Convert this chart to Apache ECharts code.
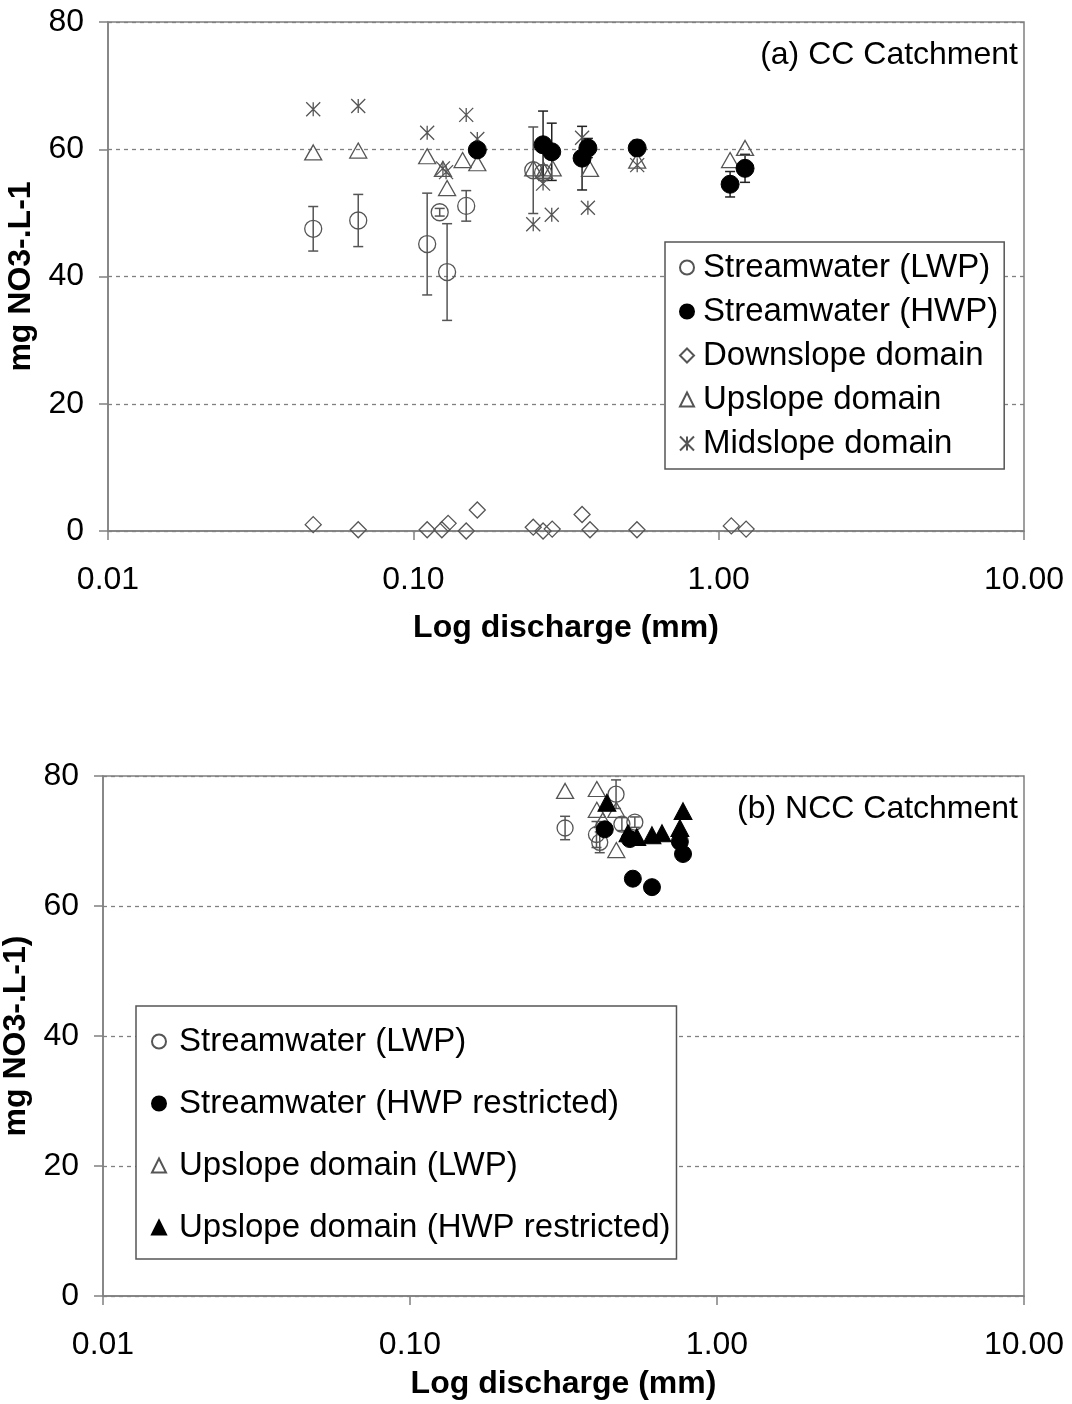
<!DOCTYPE html>
<html>
<head>
<meta charset="utf-8">
<script src="https://cdn.jsdelivr.net/npm/echarts@6/dist/echarts.min.js"></script>
<style>
html,body{margin:0;padding:0;background:#fff;}
#chart{width:1072px;height:1404px;}
</style>
</head>
<body>
<div id="chart"></div>
<script>
// ---------- (a) CC Catchment ----------
const ccLwpX   = [0.047, 0.066, 0.111, 0.122, 0.129, 0.149, 0.247, 0.266];
const ccLwpY   = [47.5, 48.8, 45.1, 50.1, 40.7, 51.1, 56.7, 56.3];
const ccLwpErr = [3.5, 4.1, 8.0, 0.6, 7.6, 2.4, 6.8, 1.2];

const ccHwpX   = [0.162, 0.266, 0.284, 0.357, 0.373, 0.541, 1.09, 1.22];
const ccHwpY   = [59.9, 60.7, 59.6, 58.6, 60.2, 60.2, 54.5, 57.0];
const ccHwpErr = [1.0, 5.3, 4.5, 5.0, 1.5, 1.2, 2.0, 2.2];

const ccDownX = [0.047, 0.066, 0.111, 0.124, 0.130, 0.149, 0.162, 0.247, 0.266, 0.285, 0.357, 0.379, 0.540, 1.10, 1.23];
const ccDownY = [1.0, 0.2, 0.2, 0.2, 1.2, 0.0, 3.3, 0.6, 0.0, 0.3, 2.6, 0.2, 0.2, 0.8, 0.3];

const ccUpX = [0.047, 0.066, 0.111, 0.125, 0.129, 0.145, 0.162, 0.247, 0.268, 0.286, 0.379, 0.541, 1.09, 1.22];
const ccUpY = [59.5, 59.8, 58.9, 56.9, 53.9, 58.3, 57.8, 57.0, 56.6, 57.0, 56.9, 58.2, 58.3, 60.2];

const ccMidX = [0.047, 0.066, 0.111, 0.125, 0.128, 0.149, 0.162, 0.247, 0.266, 0.284, 0.357, 0.373, 0.541];
const ccMidY = [66.3, 66.8, 62.6, 57.0, 56.4, 65.4, 61.6, 48.2, 54.6, 49.7, 61.8, 50.8, 57.5];

// ---------- (b) NCC Catchment ----------
const nccLwpX   = [0.32, 0.405, 0.415, 0.469, 0.49, 0.54];
const nccLwpY   = [72.0, 71.0, 69.8, 77.2, 72.6, 72.9];
const nccLwpErr = [1.8, 2.0, 1.6, 2.2, 1.0, 0.8];

const nccHwpX = [0.431, 0.52, 0.532, 0.614, 0.757, 0.775];
const nccHwpY = [71.8, 70.3, 64.2, 62.9, 69.9, 68.0];

const nccUpLwpX = [0.32, 0.406, 0.406, 0.425, 0.47, 0.47];
const nccUpLwpY = [77.7, 78.0, 74.8, 73.2, 74.8, 68.6];

const nccUpHwpX = [0.438, 0.513, 0.548, 0.614, 0.662, 0.757, 0.775];
const nccUpHwpY = [75.9, 71.2, 70.6, 70.9, 71.2, 72.0, 74.6];

const xTickDecimals = 2;
const yTicks = [0, 20, 40, 60, 80];

const legendA = ['Streamwater (LWP)', 'Streamwater (HWP)', 'Downslope domain', 'Upslope domain', 'Midslope domain'];
const legendB = ['Streamwater (LWP)', 'Streamwater (HWP restricted)', 'Upslope domain (LWP)', 'Upslope domain (HWP restricted)'];

// ---------- helpers ----------
const FONT = 'Liberation Sans, Arial, Helvetica, sans-serif';
const pairs = (xs, ys) => xs.map((x, i) => [x, ys[i]]);
const errData = (xs, ys, es) => xs.map((x, i) => [x, ys[i] - es[i], ys[i] + es[i]]);
const STAR = 'path://M0,0L10,10M10,0L0,10M5,0L5,10';

function errSeries(name, data, color, xi) {
  return {
    type: 'custom', name: name, xAxisIndex: xi, yAxisIndex: xi, z: 1,
    encode: { x: 0, y: [1, 2] },
    data: data,
    silent: true,
    renderItem: function (params, api) {
      const x = api.value(0);
      const lo = api.coord([x, api.value(1)]);
      const hi = api.coord([x, api.value(2)]);
      const c = 5;
      const st = { stroke: color, lineWidth: 1.5 };
      return {
        type: 'group',
        children: [
          { type: 'line', shape: { x1: hi[0], y1: hi[1], x2: lo[0], y2: lo[1] }, style: st },
          { type: 'line', shape: { x1: hi[0] - c, y1: hi[1], x2: hi[0] + c, y2: hi[1] }, style: st },
          { type: 'line', shape: { x1: lo[0] - c, y1: lo[1], x2: lo[0] + c, y2: lo[1] }, style: st }
        ]
      };
    }
  };
}

const openStyleT = { color: 'rgba(255,255,255,0)', borderColor: '#555', borderWidth: 1.3, opacity: 1 };
const fillStyle = { color: '#000', borderColor: '#000', borderWidth: 1, opacity: 1 };

function sc(name, data, symbol, size, style, xi, z) {
  return {
    type: 'scatter', name: name, xAxisIndex: xi, yAxisIndex: xi,
    data: data, symbol: symbol, symbolSize: size, itemStyle: style, z: z || 2,
    emphasis: { disabled: true }
  };
}

function xAxisCfg(gi, nameGap) {
  return {
    type: 'log', logBase: 10, min: 0.01, max: 10, gridIndex: gi,
    name: 'Log discharge (mm)', nameLocation: 'middle', nameGap: nameGap,
    nameTextStyle: { fontSize: 32, fontWeight: 'bold', color: '#000', fontFamily: FONT },
    axisLine: { show: true, lineStyle: { color: '#808080', width: 1.5 } },
    axisTick: { show: true, length: 9, lineStyle: { color: '#808080', width: 1.5 } },
    minorTick: { show: false },
    splitLine: { show: false },
    axisLabel: { fontSize: 32, color: '#000', fontFamily: FONT, margin: 33,
      formatter: v => Number(v).toFixed(xTickDecimals) }
  };
}
function yAxisCfg(gi, name, nameGap) {
  return {
    type: 'value', min: yTicks[0], max: yTicks[yTicks.length - 1], interval: 20, gridIndex: gi,
    name: name, nameLocation: 'middle', nameGap: nameGap,
    nameTextStyle: { fontSize: 32, fontWeight: 'bold', color: '#000', fontFamily: FONT },
    axisLine: { show: true, lineStyle: { color: '#808080', width: 1.5 } },
    axisTick: { show: true, length: 9, lineStyle: { color: '#808080', width: 1.5 } },
    splitLine: { show: true, lineStyle: { color: '#808080', type: [4, 4], width: 1.3 } },
    axisLabel: { fontSize: 32, color: '#000', fontFamily: FONT, margin: 24 }
  };
}

const option = {
  animation: false,
  backgroundColor: '#fff',
  textStyle: { fontFamily: FONT },
  title: [
    { text: '(a) CC Catchment', right: 49, top: 34,
      textStyle: { fontSize: 32, fontWeight: 'normal', color: '#000', fontFamily: FONT } },
    { text: '(b) NCC Catchment', right: 49, top: 788,
      textStyle: { fontSize: 32, fontWeight: 'normal', color: '#000', fontFamily: FONT } }
  ],
  grid: [
    { left: 108, top: 22, width: 916, height: 509, show: true, borderColor: '#808080', borderWidth: 1.5,
      backgroundColor: '#fff', containLabel: false, outerBoundsMode: 'none' },
    { left: 103, top: 776, width: 921, height: 520, show: true, borderColor: '#808080', borderWidth: 1.5,
      backgroundColor: '#fff', containLabel: false, outerBoundsMode: 'none' }
  ],
  xAxis: [xAxisCfg(0, 81), xAxisCfg(1, 72)],
  yAxis: [yAxisCfg(0, 'mg NO3-.L-1', 60), yAxisCfg(1, 'mg NO3-.L-1)', 58)],
  legend: [
    {
      data: legendA, orient: 'vertical', left: 665, top: 242,
      itemWidth: 14, itemHeight: 14, itemGap: 11,
      padding: [9, 6, 9, 14],
      borderColor: '#555', borderWidth: 1.5, backgroundColor: '#fff',
      selectedMode: false,
      textStyle: { fontSize: 33, color: '#000', fontFamily: FONT, padding: [0, 0, 0, 4] }
    },
    {
      data: legendB, orient: 'vertical', left: 136, top: 1006,
      itemWidth: 14, itemHeight: 14, itemGap: 29,
      padding: [19, 6, 15, 15],
      borderColor: '#555', borderWidth: 1.5, backgroundColor: '#fff',
      selectedMode: false,
      textStyle: { fontSize: 33, color: '#000', fontFamily: FONT, padding: [0, 0, 0, 8] }
    }
  ],
  series: [
    // (a)
    errSeries('errA1', errData(ccLwpX, ccLwpY, ccLwpErr), '#555', 0),
    errSeries('errA2', errData(ccHwpX, ccHwpY, ccHwpErr), '#222', 0),
    sc('Downslope domain', pairs(ccDownX, ccDownY), 'diamond', [16, 16], openStyleT, 0, 2),
    sc('Midslope domain', pairs(ccMidX, ccMidY), STAR, [14, 14], { color: 'rgba(0,0,0,0)', borderColor: '#555', borderWidth: 1.3, opacity: 1 }, 0, 2),
    sc('Upslope domain', pairs(ccUpX, ccUpY), 'triangle', [17, 15], openStyleT, 0, 3),
    sc('Streamwater (LWP)', pairs(ccLwpX, ccLwpY), 'circle', 17, openStyleT, 0, 3),
    sc('Streamwater (HWP)', pairs(ccHwpX, ccHwpY), 'circle', 18, fillStyle, 0, 4),
    // (b)
    errSeries('errB1', errData(nccLwpX, nccLwpY, nccLwpErr), '#555', 1),
    sc('Upslope domain (LWP)', pairs(nccUpLwpX, nccUpLwpY), 'triangle', [17, 15], openStyleT, 1, 3),
    sc('Streamwater (LWP)', pairs(nccLwpX, nccLwpY), 'circle', 16, openStyleT, 1, 3),
    sc('Upslope domain (HWP restricted)', pairs(nccUpHwpX, nccUpHwpY), 'triangle', [18, 17], fillStyle, 1, 4),
    sc('Streamwater (HWP restricted)', pairs(nccHwpX, nccHwpY), 'circle', 17, fillStyle, 1, 4)
  ]
};

const chart = echarts.init(document.getElementById('chart'), null, { renderer: 'canvas' });
chart.setOption(option);
</script>
</body>
</html>
